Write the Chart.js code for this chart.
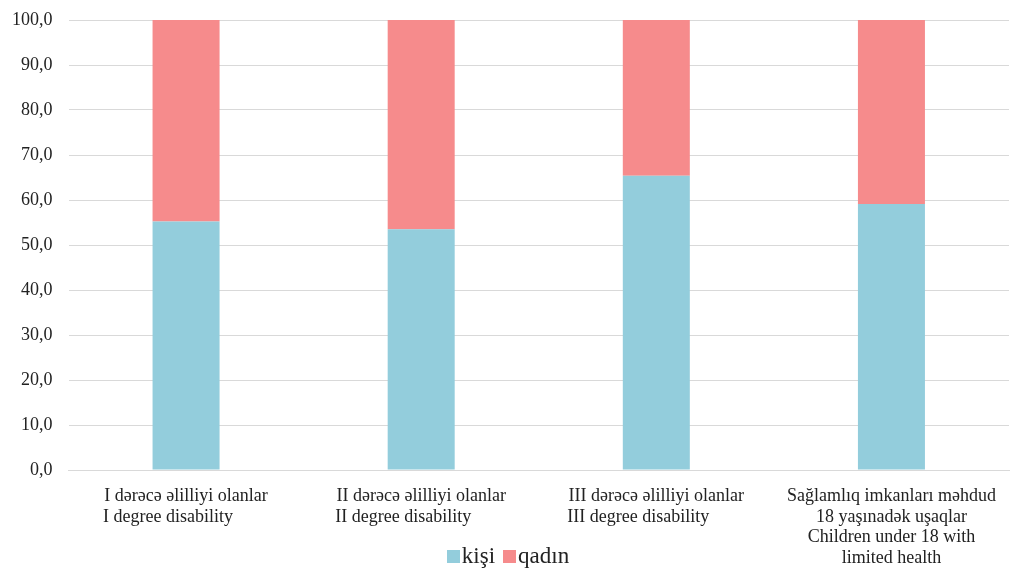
<head>
  <script src="https://cdn.jsdelivr.net/npm/chart.js@4/dist/chart.umd.min.js"></script>
</head>

<body style="margin: 0; background: #fff">
  <div style="width: 1024px; height: 568px; position: relative">
    <canvas id="myChart"></canvas>
    <div id="legend" style="position: absolute; left: 0; right: 0; top: 543px; text-align: center;
      font-family: 'Liberation Serif', 'Times New Roman', serif; font-size: 23px; color: #222"></div>
  </div>
  <script>
    // categories (two languages, one line each)
    var categories = [
      ["I dərəcə əlilliyi olanlar", "I degree disability        "],
      ["II dərəcə əlilliyi olanlar", "II degree disability        "],
      ["III dərəcə əlilliyi olanlar", "III degree disability        "],
      ["Sağlamlıq imkanları məhdud", "18 yaşınadək uşaqlar", "Children under 18 with", "limited health"],
    ];
    var seriesNames = ["kişi", "qadın"];
    var kisi = [55.2, 53.5, 65.4, 59.1];
    var qadin = [44.8, 46.5, 34.6, 40.9];
    var barColors = ["#93CDDC", "#F68B8C"];

    Chart.defaults.font.family = "'Liberation Serif', 'Times New Roman', serif";
    Chart.defaults.color = "#222";

    new Chart("myChart", {
      type: "bar",
      data: {
        labels: categories,
        datasets: [
          { label: seriesNames[0], data: kisi, backgroundColor: barColors[0] },
          { label: seriesNames[1], data: qadin, backgroundColor: barColors[1] },
        ],
      },
      options: {
        responsive: true,
        maintainAspectRatio: false,
        animation: false,
        layout: { padding: { left: -4, right: 15, top: 20, bottom: 0 } },
        datasets: { bar: { categoryPercentage: 1, barPercentage: 0.285 } },
        plugins: {
          legend: { display: false },
          tooltip: { enabled: false },
        },
        scales: {
          x: {
            stacked: true,
            grid: { display: false },
            border: { color: "#d9d9d9" },
            ticks: {
              font: { size: 18, lineHeight: 1.15 },
              padding: 8,
              maxRotation: 0,
              autoSkip: false,
            },
            afterFit: function (scale) { scale.height = 98; },
          },
          y: {
            stacked: true,
            min: 0,
            max: 100,
            ticks: {
              stepSize: 10,
              font: { size: 18 },
              padding: 16,
              callback: function (v) { return v.toFixed(1).replace(".", ","); },
            },
            grid: { color: "#d9d9d9", drawTicks: false },
            border: { display: false },
            afterFit: function (scale) { scale.paddingTop = 0; scale.paddingBottom = 0; },
          },
        },
      },
    });

    // legend as html, it sits beside the last multi-line label like in the original
    var legend = document.getElementById("legend");
    seriesNames.forEach(function (name, i) {
      var item = document.createElement("span");
      item.style.margin = "0 8px 0 0";
      item.innerHTML =
        '<span style="display:inline-block;width:13px;height:13px;margin-right:2px;background:' +
        barColors[i] + '"></span>' + name;
      legend.appendChild(item);
    });
  </script>
</body>
